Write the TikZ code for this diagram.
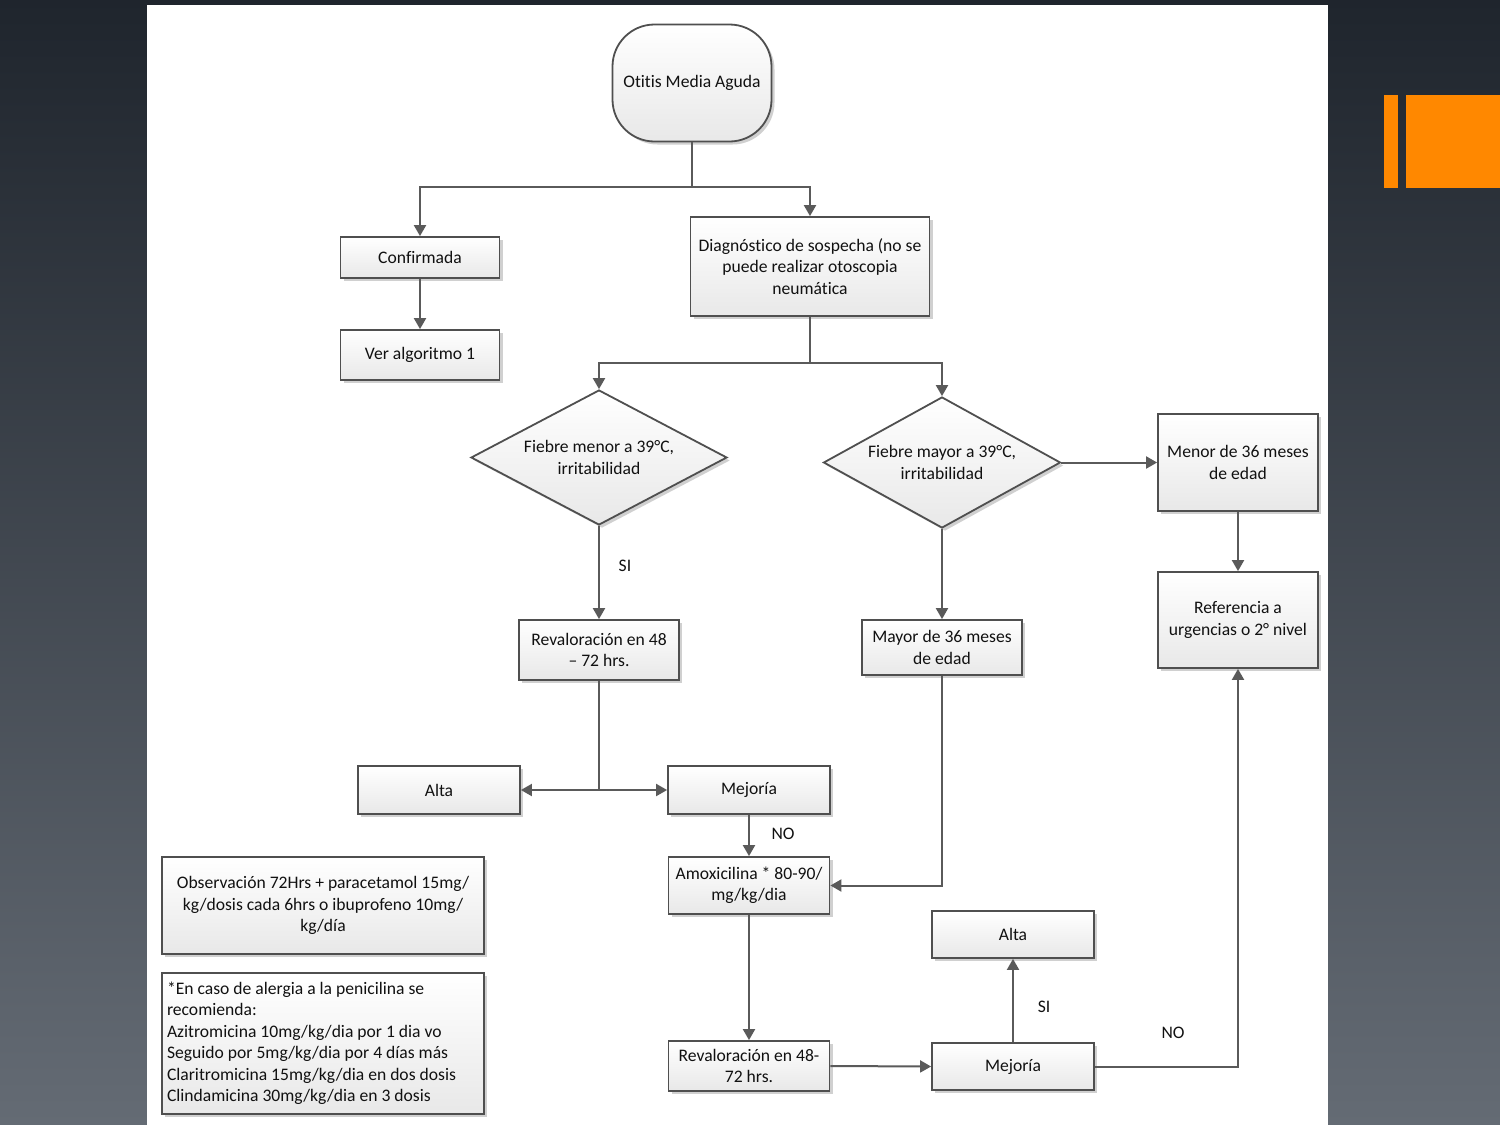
\documentclass[tikz,border=0pt]{standalone}
\usepackage{fontspec}
\setmainfont[Ligatures=NoCommon]{Carlito}
\usetikzlibrary{shapes.geometric,arrows.meta,shadows}
\definecolor{bgtop}{HTML}{1F252D}
\definecolor{bgbot}{HTML}{646B74}
\definecolor{orng}{HTML}{FF8800}
\definecolor{edgec}{HTML}{4F4F4F}
\definecolor{linec}{HTML}{5A5A5A}
\definecolor{txt}{HTML}{111111}
\begin{document}
\begin{tikzpicture}[x=1pt,y=-1pt,
  txtf/.style={font=\fontsize{17.6}{21.5}\selectfont, text=txt},
  box/.style={txtf, draw=edgec, line width=1.8pt, top color=white, bottom color=black!9,
    drop shadow={shadow xshift=3pt,shadow yshift=-3pt,fill=black!30,opacity=0.6},
    inner sep=2pt, align=center},
  dia/.style={box, diamond, inner sep=0pt, aspect=1.9},
  line/.style={draw=linec, line width=2pt},
  arr/.style={line, -{Triangle[length=11pt,width=12pt]}, color=linec},
  lab/.style={txtf}
]
\useasboundingbox (0,0) rectangle (1500,1125);
% background
\fill[top color=bgtop, bottom color=bgbot] (0,0) rectangle (1500,1125);
\fill[white] (147,5) rectangle (1328,1125);
\fill[orng] (1384,95) rectangle (1398,188);
\fill[orng] (1406,95) rectangle (1500,188);

% nodes
\node[box, rounded corners=42pt, minimum width=159pt, minimum height=117pt] (start) at (692,83) {\raisebox{-2pt}{Otitis Media Aguda}};
\node[box, minimum width=159pt, minimum height=41pt] (conf) at (420,257.5) {Confirmada};
\node[box, minimum width=159pt, minimum height=50pt] (ver) at (420,355) {Ver algoritmo 1};
\node[box, minimum width=239pt, minimum height=99pt] (diag) at (810,266.5) {Diagnóstico de sospecha (no se\\puede realizar otoscopia\\neumática};
\node[dia, minimum width=256pt, minimum height=135pt] (d1) at (599,457.5) {Fiebre menor a 39°C,\\irritabilidad};
\node[dia, minimum width=237pt, minimum height=131pt] (d2) at (942,462.5) {Fiebre mayor a 39°C,\\irritabilidad};
\node[box, minimum width=160pt, minimum height=97pt] (menor) at (1238,462.5) {Menor de 36 meses\\de edad};
\node[box, minimum width=160pt, minimum height=96pt] (ref) at (1238,620) {Referencia a\\urgencias o 2° nivel};
\node[box, minimum width=160pt, minimum height=60pt] (rev) at (599,650) {Revaloración en 48\\– 72 hrs.};
\node[box, minimum width=160pt, minimum height=55pt] (may) at (942,647.5) {Mayor de 36 meses\\de edad};
\node[box, minimum width=162pt, minimum height=48pt] (alta) at (439,790) {Alta};
\node[box, minimum width=162pt, minimum height=48pt] (mej) at (749,790) {Mejoría};
\node[box, minimum width=161pt, minimum height=57pt] (amox) at (749,885.5) {Amoxicilina * 80-90/\\mg/kg/dia};
\node[box, minimum width=161pt, minimum height=50pt] (rev2) at (749,1066) {Revaloración en 48-\\72 hrs.};
\node[box, minimum width=162pt, minimum height=47pt] (mej2) at (1013,1066.5) {Mejoría};
\node[box, minimum width=162pt, minimum height=47pt] (alta2) at (1013,934.5) {Alta};
\node[box, minimum width=322pt, minimum height=97pt] (obs) at (323,905.5) {Observación 72Hrs + paracetamol 15mg/\\kg/dosis cada 6hrs o ibuprofeno 10mg/\\kg/día};
\node[box, align=flush left, inner xsep=5pt, text width=312pt, minimum height=141pt] (alerg) at (323,1043.5) {*En caso de alergia a la penicilina se\\recomienda:\\Azitromicina 10mg/kg/dia por 1 dia vo\\Seguido por 5mg/kg/dia por 4 días más\\Claritromicina 15mg/kg/dia en dos dosis\\Clindamicina 30mg/kg/dia en 3 dosis};

% connectors
\draw[line] (start.south) -- ++(0,45) coordinate (j1);
\draw[arr] (j1) -| (conf.north);
\draw[arr] (j1) -| (diag.north);
\draw[arr] (conf.south) -- (ver.north);
\draw[line] (diag.south) -- ++(0,46) coordinate (j2);
\draw[arr] (j2) -| (d1.north);
\draw[arr] (j2) -| (d2.north);
\draw[arr] (d2.east) -- (menor.west);
\draw[arr] (menor.south) -- (ref.north);
\draw[arr] (d1.south) -- (rev.north);
\draw[arr] (d2.south) -- (may.north);
\draw[line] (rev.south) -- (rev.south |- alta.east) coordinate (j3);
\draw[arr] (j3) -- (alta.east);
\draw[arr] (j3) -- (mej.west);
\draw[arr] (mej.south) -- (amox.north);
\draw[arr] (may.south) |- (amox.east);
\draw[arr] (amox.south) -- (rev2.north);
\draw[arr] (rev2.east) -- (mej2.west);
\draw[arr] (mej2.north) -- (alta2.south);
\draw[arr] (mej2.east) -| (ref.south);

% labels
\node[lab] (l1) at (625,566) {SI};
\node[lab] (l2) at (783,834) {NO};
\node[lab] (l3) at (1044,1007) {SI};
\node[lab] (l4) at (1173,1033) {NO};
\end{tikzpicture}
\end{document}
